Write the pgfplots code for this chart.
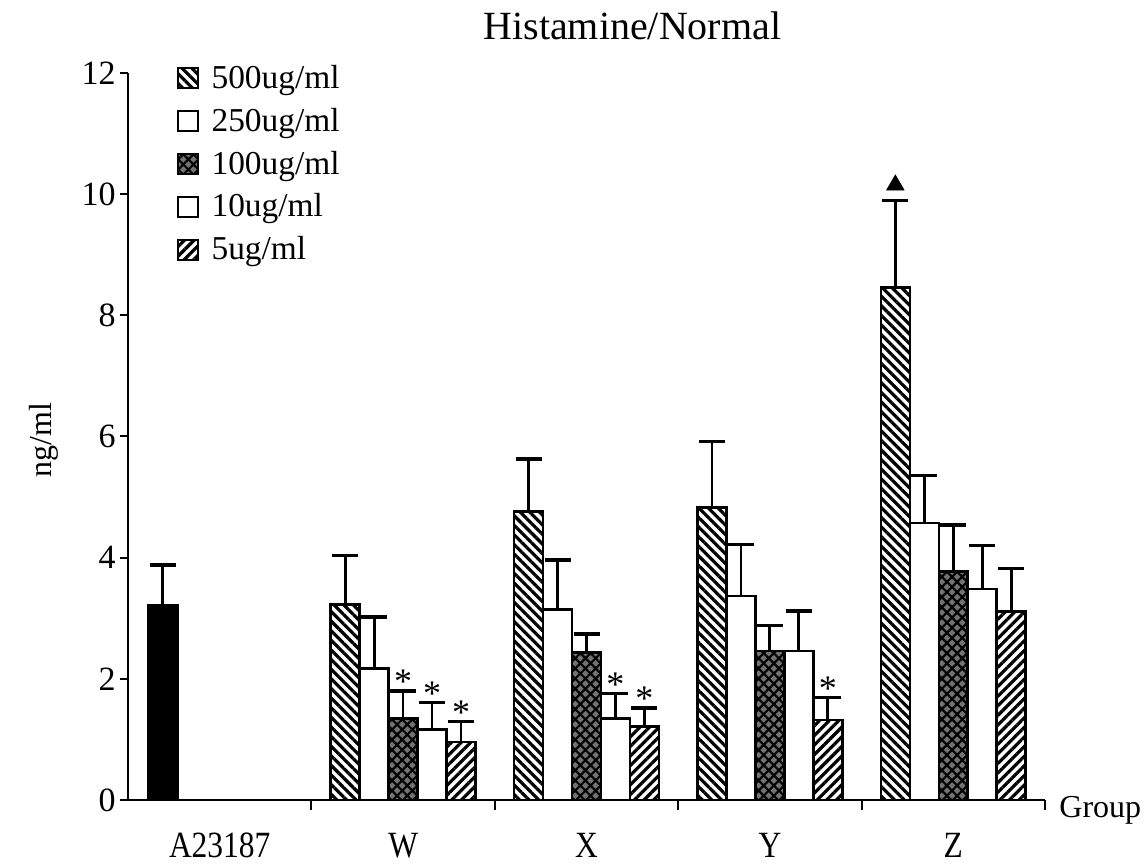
\documentclass[border=0pt]{standalone}
\usepackage{fontspec}
\setmainfont{Liberation Serif}
\newfontfamily\condensed{Liberation Serif}[FakeStretch=0.85]
\usepackage{pgfplots}
\pgfplotsset{compat=1.18}
\usetikzlibrary{patterns.meta}

\tikzset{
  p500/.style={fill=white, postaction={pattern={Lines[angle=-45,distance=3.4pt,line width=1.6pt]}, pattern color=black}},
  p5/.style={fill=white, postaction={pattern={Lines[angle=45,distance=3.4pt,line width=1.6pt]}, pattern color=black}},
  p100/.style={fill=black!55, postaction={pattern={Lines[angle=45,distance=3.6pt,line width=1.1pt]}, pattern color=black},
               postaction={pattern={Lines[angle=-45,distance=3.6pt,line width=1.1pt]}, pattern color=black}},
  pwhite/.style={fill=white},
}
\pgfplotsset{
  sqlegend/.style={legend image code/.code={\draw[##1,line width=1pt] (0pt,-5pt) rectangle (10pt,5pt);}},
  barstyle/.style={draw=black, line width=1.3pt, bar shift=0pt, bar width=0.158,
     error bars/y dir=plus, error bars/y explicit,
     error bars/error bar style={line width=1.4pt, black},
     error bars/error mark=|,
     error bars/error mark options={mark size=6.5pt, line width=1.6pt, black, solid}},
}

\begin{document}
\begin{tikzpicture}
\useasboundingbox (-64pt,-33.5pt) rectangle (509pt,400pt);
\begin{axis}[
  at={(0,0)}, anchor=south west,
  scale only axis, width=458.5pt, height=363.5pt,
  xmin=0, xmax=5, ymin=0, ymax=12,
  axis lines*=left,
  axis line style={line width=1pt},
  ybar, bar shift=0pt,
  clip=false,
  ytick={0,2,...,12},
  xtick={0.5,1.5,2.5,3.5,4.5},
  xticklabels={A23187,W,X,Y,Z},
  major x tick style={draw=none},
  minor xtick={1,2,3,4,5},
  minor tick length=5pt,
  major tick length=4pt,
  tick align=outside,
  tick style={line width=1pt, black},
  /pgf/number format/assume math mode=true,
  yticklabel style={font=\fontsize{17}{17}\selectfont, inner sep=2pt},
  xticklabel style={font=\condensed\fontsize{18.5}{18.5}\selectfont, anchor=base, yshift=-24.5pt},
  ylabel={ng/ml},
  ylabel style={at={(axis description cs:-0.092,0.495)}, anchor=center, font=\fontsize{16}{16}\selectfont},
  xlabel={Group},
  xlabel style={at={(axis description cs:1,0)}, anchor=north west, xshift=7pt, yshift=2pt, inner sep=0pt, font=\fontsize{16}{16}\selectfont},
  title={Histamine/Normal},
  title style={at={(axis description cs:0.55,1)}, anchor=base, yshift=10.5pt, font=\fontsize{20}{20}\selectfont},
  legend style={draw=none, fill=none, at={(axis description cs:0.046,1)}, anchor=north west, yshift=7.5pt,
     font=\fontsize{16.7}{16.7}\selectfont, row sep=5.3pt, /tikz/column sep=5pt, nodes={inner sep=1.5pt}},
  legend cell align=left,
]
% A23187 (single bar)
\addplot[forget plot, barstyle, fill=black] coordinates {(0.19,3.22) +- (0,0.66)};
% 500ug/ml
\addplot[barstyle, p500, sqlegend] coordinates {
 (1.184,3.23) +- (0,0.81) (2.184,4.76) +- (0,0.87) (3.184,4.83) +- (0,1.09) (4.184,8.46) +- (0,1.43)};
\addlegendentry{500ug/ml}
% 250ug/ml
\addplot[barstyle, pwhite, sqlegend] coordinates {
 (1.342,2.17) +- (0,0.85) (2.342,3.14) +- (0,0.82) (3.342,3.37) +- (0,0.85) (4.342,4.57) +- (0,0.79)};
\addlegendentry{250ug/ml}
% 100ug/ml
\addplot[barstyle, p100, sqlegend] coordinates {
 (1.5,1.35) +- (0,0.45) (2.5,2.43) +- (0,0.31) (3.5,2.46) +- (0,0.42) (4.5,3.77) +- (0,0.77)};
\addlegendentry{100ug/ml}
% 10ug/ml
\addplot[barstyle, pwhite, sqlegend] coordinates {
 (1.658,1.16) +- (0,0.45) (2.658,1.35) +- (0,0.41) (3.658,2.46) +- (0,0.66) (4.658,3.48) +- (0,0.72)};
\addlegendentry{10ug/ml}
% 5ug/ml
\addplot[barstyle, p5, sqlegend] coordinates {
 (1.816,0.96) +- (0,0.33) (2.816,1.21) +- (0,0.31) (3.816,1.32) +- (0,0.37) (4.816,3.11) +- (0,0.71)};
\addlegendentry{5ug/ml}
% significance stars
\addplot[forget plot, only marks, mark=none, draw=none, fill=none,
  nodes near coords={*},
  every node near coord/.append style={anchor=base, inner sep=0pt, yshift=-1.5pt, font=\fontsize{18}{18}\selectfont}]
  coordinates {(1.5,1.80) (1.658,1.61) (1.816,1.29) (2.658,1.76) (2.816,1.52) (3.816,1.69)};
% triangle marker
\addplot[forget plot, only marks, mark=triangle*, mark size=5pt, black] coordinates {(4.184,10.15)};
\end{axis}
\end{tikzpicture}
\end{document}
